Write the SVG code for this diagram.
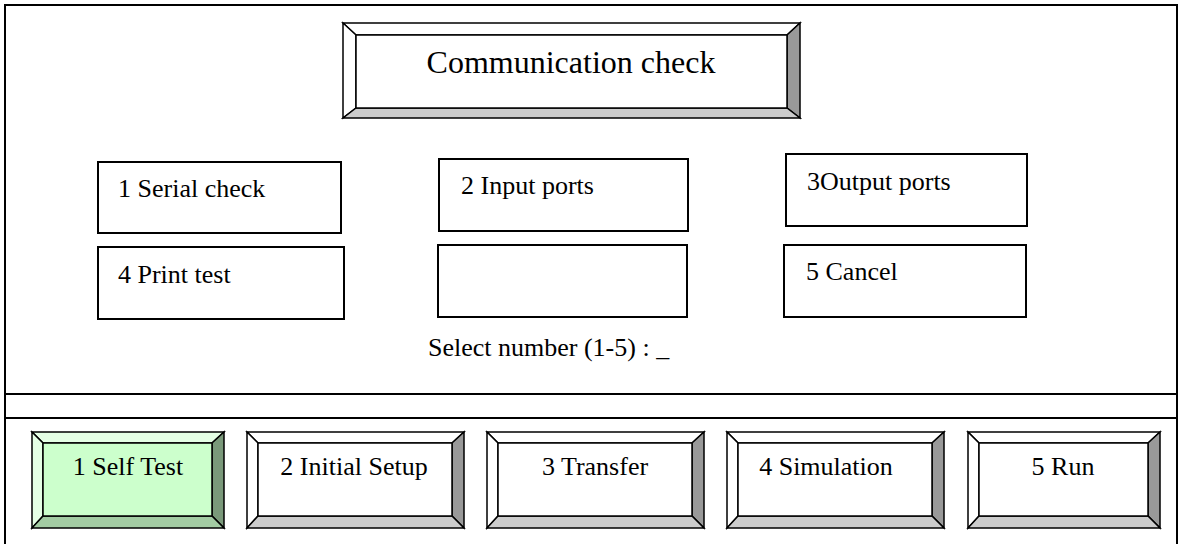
<svg xmlns="http://www.w3.org/2000/svg" width="1178" height="544" viewBox="0 0 1178 544">
<style>
text{font-family:"Liberation Serif","Times New Roman",serif;fill:#000}
.t{font-size:26px}
.title{font-size:32px}
.box{fill:#fff;stroke:#000;stroke-width:2}
.bv{stroke:#000;stroke-width:1.5;stroke-linejoin:miter}
.w{fill:#fff}.g1{fill:#999}.g2{fill:#ccc}
.gf{fill:#ccffcc}.gl{fill:#e5ffe5}.gr{fill:#7a997a}.gb{fill:#a3cca3}
.frame{stroke:#000;stroke-width:2;fill:none}
</style>
<rect width="1178" height="544" fill="#fff"/>
<g id="frame">
<path class="frame" d="M5,544 V5 H1177 V544"/>
<line class="frame" x1="5" y1="394" x2="1177" y2="394"/>
<line class="frame" x1="5" y1="418" x2="1177" y2="418"/>
</g>
<g id="title">
<polygon class="bv w" points="343,23 800,23 787,35 356,35"/>
<polygon class="bv w" points="343,23 356,35 356,108 343,118"/>
<polygon class="bv g1" points="800,23 800,118 787,108 787,35"/>
<polygon class="bv g2" points="343,118 800,118 787,108 356,108"/>
<rect class="bv w" x="356" y="35" width="431" height="73"/>
<text class="title" x="571" y="73" text-anchor="middle">Communication check</text>
</g>
<g id="opt1"><rect class="box" x="98" y="162" width="243" height="71"/><text class="t" x="118" y="197">1 Serial check</text></g>
<g id="opt2"><rect class="box" x="439" y="159" width="249" height="72"/><text class="t" x="461" y="194">2 Input ports</text></g>
<g id="opt3"><rect class="box" x="786" y="154" width="241" height="72"/><text class="t" x="807" y="190">3Output ports</text></g>
<g id="opt4"><rect class="box" x="98" y="247" width="246" height="72"/><text class="t" x="118" y="283">4 Print test</text></g>
<g id="opt-empty"><rect class="box" x="438" y="245" width="249" height="72"/></g>
<g id="opt5"><rect class="box" x="784" y="245" width="242" height="72"/><text class="t" x="806" y="280">5 Cancel</text></g>
<g id="prompt"><text class="t" x="428" y="356">Select number (1-5) : _</text></g>
<g id="btn1">
<polygon class="bv gl" points="32,432 224,432 212,443 43,443"/>
<polygon class="bv gl" points="32,432 43,443 43,516 32,528"/>
<polygon class="bv gr" points="224,432 224,528 212,516 212,443"/>
<polygon class="bv gb" points="32,528 224,528 212,516 43,516"/>
<rect class="bv gf" x="43" y="443" width="169" height="73"/>
<text class="t" x="128" y="475" text-anchor="middle">1 Self Test</text>
</g>
<g id="btn2">
<polygon class="bv w" points="247,432 464,432 452,443 258,443"/>
<polygon class="bv w" points="247,432 258,443 258,516 247,528"/>
<polygon class="bv g1" points="464,432 464,528 452,516 452,443"/>
<polygon class="bv g2" points="247,528 464,528 452,516 258,516"/>
<rect class="bv w" x="258" y="443" width="194" height="73"/>
<text class="t" x="354" y="475" text-anchor="middle">2 Initial Setup</text>
</g>
<g id="btn3">
<polygon class="bv w" points="487,432 704,432 692,443 498,443"/>
<polygon class="bv w" points="487,432 498,443 498,516 487,528"/>
<polygon class="bv g1" points="704,432 704,528 692,516 692,443"/>
<polygon class="bv g2" points="487,528 704,528 692,516 498,516"/>
<rect class="bv w" x="498" y="443" width="194" height="73"/>
<text class="t" x="595" y="475" text-anchor="middle">3 Transfer</text>
</g>
<g id="btn4">
<polygon class="bv w" points="727,432 944,432 932,443 738,443"/>
<polygon class="bv w" points="727,432 738,443 738,516 727,528"/>
<polygon class="bv g1" points="944,432 944,528 932,516 932,443"/>
<polygon class="bv g2" points="727,528 944,528 932,516 738,516"/>
<rect class="bv w" x="738" y="443" width="194" height="73"/>
<text class="t" x="826" y="475" text-anchor="middle">4 Simulation</text>
</g>
<g id="btn5">
<polygon class="bv w" points="968,432 1160,432 1148,443 979,443"/>
<polygon class="bv w" points="968,432 979,443 979,516 968,528"/>
<polygon class="bv g1" points="1160,432 1160,528 1148,516 1148,443"/>
<polygon class="bv g2" points="968,528 1160,528 1148,516 979,516"/>
<rect class="bv w" x="979" y="443" width="169" height="73"/>
<text class="t" x="1063" y="475" text-anchor="middle">5 Run</text>
</g>
<g id="connectors"/>
</svg>
